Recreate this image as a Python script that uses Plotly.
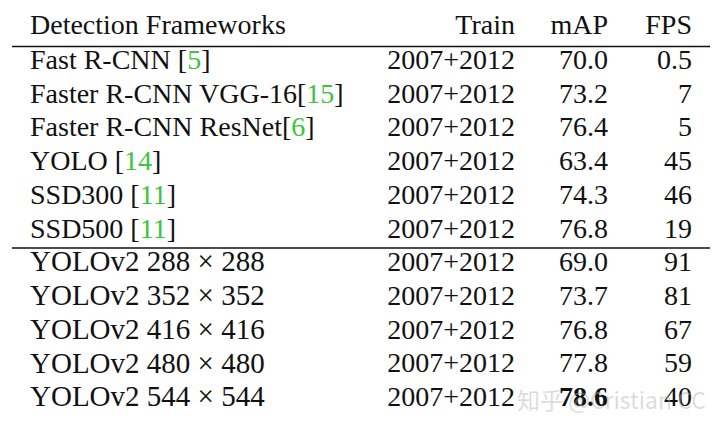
import plotly.graph_objects as go

G = "<span style='color:#3cc43c'>{}</span>"

frameworks = [
    "Fast R-CNN [" + G.format("5") + "]",
    "Faster R-CNN VGG-16[" + G.format("15") + "]",
    "Faster R-CNN ResNet[" + G.format("6") + "]",
    "YOLO [" + G.format("14") + "]",
    "SSD300 [" + G.format("11") + "]",
    "SSD500 [" + G.format("11") + "]",
    "YOLOv2 288 × 288",
    "YOLOv2 352 × 352",
    "YOLOv2 416 × 416",
    "YOLOv2 480 × 480",
    "YOLOv2 544 × 544",
]
train = ["2007+2012"] * 11
mAP = ["70.0", "73.2", "76.4", "63.4", "74.3", "76.8",
       "69.0", "73.7", "76.8", "77.8", "<b>78.6</b>"]
fps = ["0.5", "7", "5", "45", "46", "19", "91", "81", "67", "59", "40"]
headers = ["Detection Frameworks", "Train", "mAP", "FPS"]

rows = list(range(len(frameworks)))
font = dict(family="Liberation Serif, Times New Roman, serif", size=28, color="#111")
name_sizes = [28] * 6 + [29] * 5

fig = go.Figure()
# header row
fig.add_trace(go.Scatter(x=[30], y=[-1.03], text=[headers[0]], mode="text",
                         textposition="middle right", textfont=font))
fig.add_trace(go.Scatter(x=[515, 608, 692], y=[-1.03] * 3, text=headers[1:], mode="text",
                         textposition="middle left", textfont=font))
# body
fig.add_trace(go.Scatter(x=[30] * len(rows), y=rows, text=frameworks, mode="text",
                         textposition="middle right",
                         textfont=dict(family=font["family"], size=name_sizes, color="#111")))
fig.add_trace(go.Scatter(x=[515] * len(rows), y=rows, text=train, mode="text",
                         textposition="middle left", textfont=font))
fig.add_trace(go.Scatter(x=[608] * len(rows), y=rows, text=mAP, mode="text",
                         textposition="middle left", textfont=font))
fig.add_trace(go.Scatter(x=[692] * len(rows), y=rows, text=fps, mode="text",
                         textposition="middle left", textfont=font))

# rules
fig.add_shape(type="line", x0=12, x1=710, y0=-0.46, y1=-0.46, line=dict(color="#111", width=1.5))
fig.add_shape(type="line", x0=12, x1=710, y0=5.52, y1=5.52, line=dict(color="#111", width=1.5))

# watermark
fig.add_annotation(x=611, y=10, text="知乎 @Cristian CC", showarrow=False,
                   font=dict(family="Noto Sans CJK SC", size=23, color="rgba(175,175,175,0.45)"))

# the page body has an 8px margin, so the figure starts at (8, 8) in the window
fig.update_layout(
    width=712, height=414,
    margin=dict(l=0, r=0, t=0, b=0),
    paper_bgcolor="white", plot_bgcolor="white",
    showlegend=False,
    xaxis=dict(range=[8, 720], visible=False),
    yaxis=dict(range=[10.68, -1.60], visible=False),
)

fig.write_html("out.html")
